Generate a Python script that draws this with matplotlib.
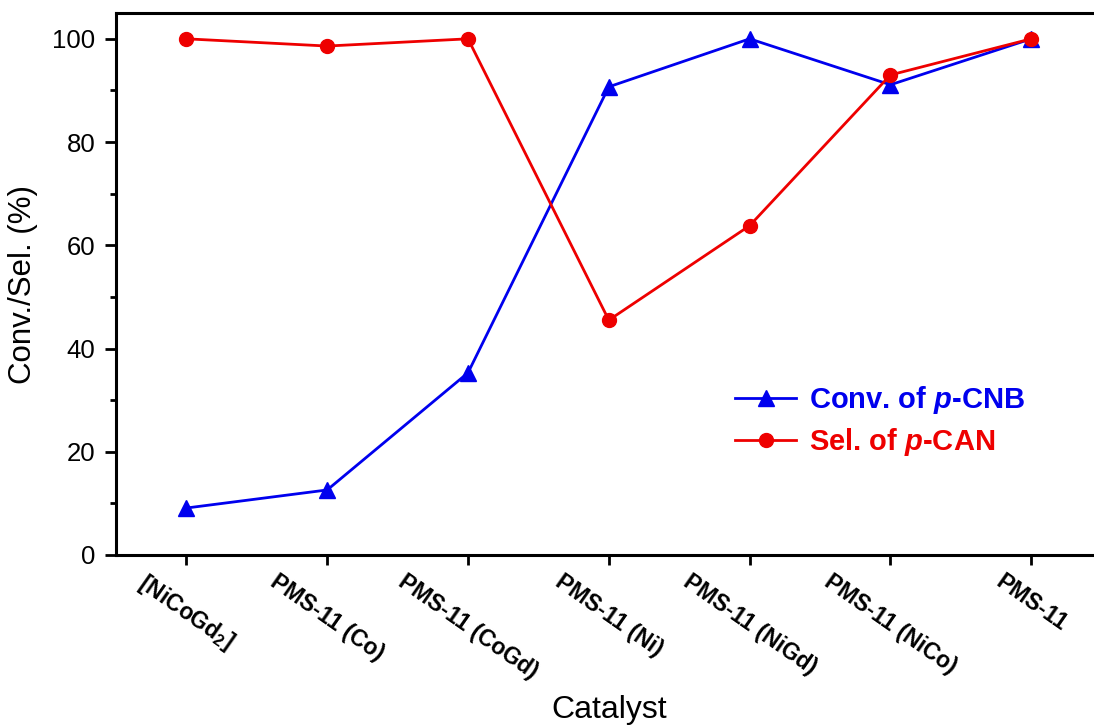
import numpy as np
import matplotlib
matplotlib.use("Agg")
import matplotlib.pyplot as plt
from matplotlib.ticker import MultipleLocator

plt.rcParams['font.family'] = ['Liberation Sans', 'DejaVu Sans']
plt.rcParams['mathtext.fontset'] = 'custom'
plt.rcParams['mathtext.it'] = 'Liberation Sans:italic:bold'
plt.rcParams['mathtext.rm'] = 'Liberation Sans:bold'

catalysts = ['[NiCoGd$_2$]', 'PMS-11 (Co)', 'PMS-11 (CoGd)', 'PMS-11 (Ni)',
             'PMS-11 (NiGd)', 'PMS-11 (NiCo)', 'PMS-11']
conv = [9.1, 12.6, 35.3, 90.7, 100.0, 91.1, 100.0]
sel = [100.0, 98.6, 100.0, 45.5, 63.8, 93.0, 100.0]

blue = '#0000ee'
red = '#ee0000'

fig = plt.figure(figsize=(10.94, 7.27), dpi=100)
ax = fig.add_axes([0.106, 0.2366, 0.901, 0.7455])

x = np.arange(len(catalysts))
ax.plot(x, conv, color=blue, lw=2, marker='^', ms=11,
        label=r'Conv. of $p$-CNB')
ax.plot(x, sel, color=red, lw=2, marker='o', ms=10,
        label=r'Sel. of $p$-CAN')

ax.set_xlim(-0.5, 6.5)
ax.set_ylim(0, 105)
ax.yaxis.set_major_locator(MultipleLocator(20))
ax.yaxis.set_minor_locator(MultipleLocator(10))
ax.set_xticks(x)
ax.set_xticklabels(catalysts, rotation=-35, ha='center', va='top',
                   fontsize=16.5, fontweight='bold')
ax.tick_params(axis='y', which='major', length=8, width=2, labelsize=18.5, pad=7)
ax.tick_params(axis='y', which='minor', length=4, width=2)
ax.tick_params(axis='x', length=7, width=2, pad=4)
for s in ax.spines.values():
    s.set_linewidth(2.2)

ax.set_ylabel('Conv./Sel. (%)', fontsize=22.5, labelpad=10)
ax.set_xlabel('Catalyst', fontsize=23, va='top')
ax.xaxis.set_label_coords(0.5, -0.258)

leg = ax.legend(loc='upper left', bbox_to_anchor=(0.628, 0.316), frameon=False,
                handlelength=2.1, handletextpad=0.45, borderpad=0,
                borderaxespad=0, labelspacing=0.35,
                prop={'weight': 'bold', 'size': 21})
for t, c in zip(leg.get_texts(), [blue, red]):
    t.set_color(c)

fig.savefig('out.png', dpi=100)
